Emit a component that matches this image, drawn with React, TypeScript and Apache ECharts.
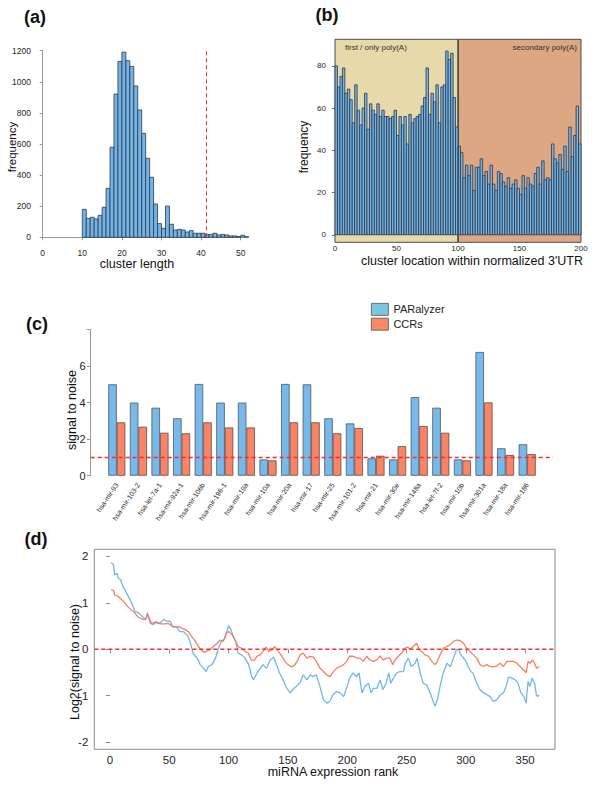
import React, { useEffect, useRef } from "react";
import * as echarts from "echarts";

// ---------- (a) cluster length histogram ----------
const lengthBinStart = [10, 11, 12, 13, 14, 15, 16, 17, 18, 19, 20, 21, 22, 23, 24, 25, 26, 27, 28, 29, 30, 31, 32, 33, 34, 35, 36, 37, 38, 39, 40, 41, 42, 43, 44, 45, 46, 47, 48, 49, 50, 51];
const lengthBinCounts = [180, 122, 129, 118, 141, 193, 315, 579, 921, 1131, 1191, 1136, 1099, 973, 819, 669, 508, 386, 214, 88, 58, 201, 84, 47, 51, 47, 34, 43, 26, 26, 26, 19, 19, 26, 15, 19, 15, 9, 9, 6, 13, 4];
const lengthBinWidth = 1;
const lengthCutoff = 41.3;
const lengthTicks = [0, 10, 20, 30, 40, 50];

// ---------- (b) cluster location histogram ----------
const locationBinStart = [0, 2, 4, 6, 8, 10, 12, 14, 16, 18, 20, 22, 24, 26, 28, 30, 32, 34, 36, 38, 40, 42, 44, 46, 48, 50, 52, 54, 56, 58, 60, 62, 64, 66, 68, 70, 72, 74, 76, 78, 80, 82, 84, 86, 88, 90, 92, 94, 96, 98, 100, 102, 104, 106, 108, 110, 112, 114, 116, 118, 120, 122, 124, 126, 128, 130, 132, 134, 136, 138, 140, 142, 144, 146, 148, 150, 152, 154, 156, 158, 160, 162, 164, 166, 168, 170, 172, 174, 176, 178, 180, 182, 184, 186, 188, 190, 192, 194, 196, 198];
const locationBinCounts = [
  80, 70, 75, 79, 67, 69, 64, 53, 71, 59,
  52, 60, 67, 50, 62, 59, 57, 62, 56, 59,
  56, 56, 55, 56, 59, 47, 56, 52, 56, 43,
  57, 53, 55, 56, 57, 61, 65, 79, 57, 67,
  63, 71, 53, 70, 71, 87, 83, 86, 65, 51,
  42, 39, 27, 33, 28, 33, 21, 32, 32, 36,
  28, 30, 24, 33, 24, 21, 30, 29, 25, 23,
  27, 22, 24, 26, 22, 19, 28, 22, 27, 24,
  23, 29, 32, 24, 35, 26, 27, 26, 43, 36,
  34, 38, 31, 42, 30, 51, 37, 47, 61, 43,
];
const locationBinWidth = 2;
const locationRegionNames = ["first / only poly(A)", "secondary poly(A)"];
const locationRegionFrom = [0, 100];
const locationRegionTo = [100, 200];
const locationYTicks = [0, 20, 40, 60, 80];

// ---------- (c) signal to noise per miRNA ----------
const mirnaNames = [
  "hsa-mir-93", "hsa-mir-103-2", "hsa-let-7a-1", "hsa-mir-92a-1", "hsa-mir-106b",
  "hsa-mir-196-1", "hsa-mir-19a", "hsa-mir-10a", "hsa-mir-20a", "hsa-mir-17",
  "hsa-mir-25", "hsa-mir-101-2", "hsa-mir-21", "hsa-mir-30e", "hsa-mir-148a",
  "hsa-let-7f-2", "hsa-mir-10b", "hsa-mir-301a", "hsa-mir-18a", "hsa-mir-186",
];
const paralyzerSN = [5.0, 4.0, 3.72, 3.14, 5.02, 4.0, 4.0, 0.89, 5.02, 5.0, 3.14, 2.86, 0.95, 0.89, 4.3, 3.72, 0.89, 6.77, 1.5, 1.72];
const ccrSN = [2.92, 2.68, 2.35, 2.32, 2.92, 2.64, 2.64, 0.84, 2.92, 2.92, 2.32, 2.61, 1.09, 1.62, 2.72, 2.35, 0.84, 4.01, 1.13, 1.18];
const snThreshold = 1;
const snTicks = [0, 2, 4, 6, 8];

// ---------- (d) running log2 signal to noise ----------
const paralyzerTrace: [number, number][] = [
  [1, 1.87], [3, 1.82], [4, 1.6], [6, 1.64], [7, 1.53], [9, 1.5], [11, 1.35], [14, 1.21], [17, 1.07], [19, 0.96],
  [21, 0.81], [24, 0.79], [27, 0.71], [30, 0.64], [31.5, 0.79], [34, 0.56], [36.5, 0.53], [39, 0.6], [42, 0.56], [45, 0.64],
  [48, 0.61], [51, 0.6], [53, 0.48], [56, 0.49], [59, 0.38], [62, 0.38], [65, 0.31], [67.5, 0.17], [70, -0.08], [72, -0.15],
  [73.6, -0.19], [76, -0.33], [79, -0.41], [81, -0.48], [83, -0.37], [86, -0.33], [89, -0.19], [91, -0.01], [94, 0.17], [97, 0.24],
  [100, 0.51], [102, 0.42], [104, 0.28], [106, 0.17], [108, -0.08], [111, -0.12], [114, -0.19], [117, -0.33], [119.5, -0.59], [121, -0.66],
  [124, -0.51], [126, -0.44], [129, -0.33], [132, -0.41], [135, -0.23], [138, -0.17], [141, -0.37], [143, -0.51], [146, -0.66], [149, -0.84],
  [152, -0.94], [154, -0.87], [157, -0.8], [160, -0.73], [163, -0.55], [166, -0.66], [169, -0.55], [171, -0.59], [174, -0.55], [177, -0.8],
  [180, -1.09], [183, -1.16], [185.5, -1.12], [188, -0.98], [191, -0.91], [194, -0.94], [197, -1.02], [200, -0.8], [202, -0.62], [205, -0.51],
  [208, -0.59], [210, -0.51], [212.5, -0.94], [215, -0.8], [218, -0.73], [220, -0.94], [222, -0.84], [225, -0.84], [227.7, -0.66], [230, -0.87],
  [232.8, -0.73], [235, -0.51], [236.7, -0.73], [239, -0.62], [241.8, -0.51], [244, -0.48], [247.4, -0.48], [249, -0.3], [251.6, -0.19], [254, -0.37],
  [257.3, -0.3], [259, -0.19], [261.5, -0.51], [264, -0.73], [267, -0.77], [270, -0.94], [272, -1.09], [274, -1.23], [276, -1.09], [278.3, -0.8],
  [281, -0.51], [284, -0.3], [287, -0.37], [289.6, -0.19], [292, -0.01], [293.8, -0.01], [296, -0.12], [299.4, -0.23], [302, -0.37], [304.2, -0.48],
  [306, -0.51], [309.3, -0.73], [312, -0.87], [314.9, -0.94], [318, -0.98], [320.5, -1.02], [323, -1.12], [326, -1.09], [329, -0.98], [331.7, -0.94],
  [334, -0.8], [336, -0.6], [339, -0.62], [341.6, -0.66], [344, -0.73], [346.4, -0.94], [349, -1.02], [350.8, -1.16], [352.5, -0.69], [354, -0.8],
  [356, -0.62], [358, -0.73], [359.5, -0.98], [360.5, -1.02], [362, -0.98],
];
const ccrTrace: [number, number][] = [
  [1, 1.28], [3, 1.27], [4, 1.17], [7, 1.14], [10, 1.07], [12.7, 0.99], [15, 0.92], [18, 0.85], [21, 0.78], [24, 0.69],
  [27, 0.65], [29.5, 0.64], [32, 0.74], [35, 0.56], [38, 0.58], [40.8, 0.56], [43, 0.55], [46.4, 0.55], [49, 0.56], [52, 0.51],
  [55, 0.48], [57.6, 0.49], [60, 0.46], [63, 0.43], [66, 0.38], [68.9, 0.28], [72, 0.17], [74.5, 0.06], [77, -0.01], [79.3, -0.07],
  [82, -0.03], [84.3, -0.01], [87, 0.06], [90, 0.12], [93, 0.2], [95.6, 0.17], [98, 0.35], [100.4, 0.38], [103, 0.31], [105.4, 0.2],
  [108, 0.06], [111, 0.02], [114, -0.05], [116.7, -0.08], [119, -0.23], [121.5, -0.24], [124, -0.15], [126.5, -0.12], [129, -0.05], [131.6, 0.05],
  [134, -0.05], [136.4, -0.01], [139, 0.06], [142, -0.05], [145, -0.15], [147.6, -0.26], [150, -0.33], [153.2, -0.38], [156, -0.33], [158.8, -0.21],
  [160.2, -0.12], [163, -0.08], [165.9, -0.19], [168.7, -0.15], [171.5, -0.17], [174, -0.26], [177.1, -0.41], [180, -0.48], [182.7, -0.55], [185.5, -0.59],
  [188.4, -0.48], [191, -0.41], [194, -0.37], [197, -0.33], [199.6, -0.26], [202, -0.15], [205.2, -0.15], [208, -0.19], [210.8, -0.19], [213.6, -0.26],
  [216.5, -0.15], [219, -0.23], [222, -0.26], [225, -0.23], [227.7, -0.14], [230.5, -0.23], [233, -0.19], [236, -0.19], [238.4, -0.33], [240.4, -0.23],
  [243.2, -0.15], [246, -0.08], [248.8, 0.02], [250.8, 0.05], [253, 0.0], [255.8, 0.06], [258.6, 0.13], [260.9, -0.01], [263, -0.05], [265.7, -0.12],
  [268.5, -0.15], [271.3, -0.26], [274, -0.33], [276, -0.26], [278.3, -0.12], [281, 0.02], [284, 0.06], [286.8, 0.1], [289.6, 0.17], [292.4, 0.2],
  [295.2, 0.19], [298, 0.13], [300.8, 0.02], [303.6, -0.05], [306.4, -0.12], [309.2, -0.19], [312, -0.33], [314.9, -0.37], [317.7, -0.33], [320.5, -0.37],
  [323.3, -0.38], [326, -0.36], [329, -0.3], [331.7, -0.37], [334.6, -0.26], [337.4, -0.26], [340.2, -0.26], [343, -0.3], [345.8, -0.37], [348.6, -0.44],
  [350.8, -0.51], [352.5, -0.26], [354, -0.3], [356.3, -0.23], [358, -0.3], [359.7, -0.41], [361.8, -0.37],
];
const rankTicks = [0, 50, 100, 150, 200, 250, 300, 350];
const log2Ticks = [-2, -1, 0, 1, 2];
const log2Baseline = 0;

const FONT = "'Liberation Sans', Arial, Helvetica, sans-serif";
const HIST_FILL = "#72b4ea";
const HIST_STROKE = "#2f3844";
const AXIS_GRAY = "#9a9a9a";
const LABEL = "#262626";
const RED_DASH = "#ff2a2a";

function histRenderer(width: number) {
  return (params: any, api: any) => {
    const x0 = api.value(0);
    const y = api.value(1);
    const p0 = api.coord([x0, y]);
    const p1 = api.coord([x0 + width, 0]);
    return {
      type: "rect",
      shape: { x: p0[0], y: p0[1], width: p1[0] - p0[0], height: p1[1] - p0[1] },
      style: { fill: HIST_FILL, stroke: HIST_STROKE, lineWidth: 0.8 },
    };
  };
}

function regionRenderer(params: any, api: any) {
  const i = params.dataIndex;
  const cs = params.coordSys;
  const a = api.coord([api.value(0), 0]);
  const b = api.coord([api.value(1), 0]);
  const fill = i === 0 ? "#e7d9aa" : "#dda784";
  return {
    type: "group",
    children: [
      {
        type: "rect",
        shape: { x: a[0], y: cs.y, width: b[0] - a[0], height: cs.height },
        style: { fill, stroke: "#4d4d4d", lineWidth: 1 },
      },
      {
        type: "text",
        x: i === 0 ? a[0] + 10 : b[0] - 4,
        y: cs.y + 4,
        style: {
          text: locationRegionNames[i],
          fill: "#333",
          font: `8px ${FONT}`,
          align: i === 0 ? "left" : "right",
          verticalAlign: "top",
        },
      },
    ],
  };
}

// dashed horizontal reference line drawn through the axes' own scale
function hLineRenderer(params: any, api: any) {
  const cs = params.coordSys;
  const p = api.coord([api.value(0), api.value(1)]);
  return {
    type: "line",
    shape: { x1: cs.x, y1: p[1], x2: cs.x + cs.width, y2: p[1] },
    style: { stroke: RED_DASH, lineWidth: 1.5, lineDash: [4, 3] },
  };
}

function buildOption(): any {
  const titleText = (text: string, x: number, y: number, size: number, rotate = false, bold = false) => ({
    type: "text",
    x,
    y,
    rotation: rotate ? Math.PI / 2 : 0,
    style: {
      text,
      fill: "#111",
      font: `${bold ? "bold " : ""}${size}px ${FONT}`,
      align: "center",
      verticalAlign: "middle",
    },
  });

  return {
    animation: false,
    backgroundColor: "#ffffff",
    textStyle: { fontFamily: FONT },
    legend: {
      data: [
        { name: "PARalyzer", itemStyle: { color: "#7cc6e2", borderColor: "#555", borderWidth: 0.8 } },
        { name: "CCRs", itemStyle: { color: "#f98a66", borderColor: "#555", borderWidth: 0.8 } },
      ],
      orient: "vertical",
      left: 371,
      top: 303,
      padding: 0,
      itemWidth: 17,
      itemHeight: 12,
      itemGap: 2,
      icon: "rect",
      textStyle: { fontSize: 11, color: "#222", fontFamily: FONT },
    },
    grid: [
      { left: 42.7, top: 50.7, width: 198, height: 186.6 },
      { left: 335, top: 39.3, width: 246, height: 203 },
      { left: 106, top: 329.5, width: 432, height: 146.2 },
      { left: 90.7, top: 329.5, width: 462.3, height: 146.2 },
      { left: 94.3, top: 549.3, width: 460.7, height: 200, show: true, borderColor: "#8a8a8a", borderWidth: 1 },
    ],
    xAxis: [
      {
        gridIndex: 0, type: "value", min: 0, max: 50, interval: 10, offset: 8,
        axisLine: { show: true, lineStyle: { color: AXIS_GRAY } },
        axisTick: { show: true, length: 3, lineStyle: { color: AXIS_GRAY }, customValues: lengthTicks },
        axisLabel: { fontSize: 8.5, color: LABEL, margin: 3, customValues: lengthTicks },
        splitLine: { show: false },
      },
      {
        gridIndex: 1, type: "value", min: 0, max: 200, interval: 50,
        axisLine: { show: false },
        axisTick: { show: false },
        axisLabel: { fontSize: 8, color: LABEL, margin: 2 },
        splitLine: { show: false },
      },
      {
        gridIndex: 2, type: "category", data: mirnaNames,
        axisLine: { show: false },
        axisTick: { show: false },
        axisLabel: { interval: 0, rotate: 56, fontSize: 7, color: LABEL, margin: 8 },
        splitLine: { show: false },
      },
      {
        gridIndex: 3, type: "value", min: 0, max: 1, show: false,
      },
      {
        gridIndex: 4, type: "value", min: -13.2, max: 375.2,
        axisLine: { show: false },
        axisTick: { show: true, length: 4, lineStyle: { color: "#8a8a8a" }, customValues: rankTicks },
        axisLabel: { fontSize: 11.5, color: LABEL, margin: 5, customValues: rankTicks },
        splitLine: { show: false },
      },
    ],
    yAxis: [
      {
        gridIndex: 0, type: "value", min: 0, max: 1200, interval: 200, offset: 7.7,
        axisLine: { show: true, lineStyle: { color: AXIS_GRAY } },
        axisTick: { show: true, length: 3, lineStyle: { color: AXIS_GRAY } },
        axisLabel: { fontSize: 8.5, color: LABEL, margin: 4, formatter: (v: number) => String(v) },
        splitLine: { show: false },
      },
      {
        gridIndex: 1, type: "value", min: -3.56, max: 92.56, offset: 4,
        axisLine: { show: false },
        axisTick: { show: true, length: 3, lineStyle: { color: "#777" }, customValues: locationYTicks },
        axisLabel: { fontSize: 8, color: LABEL, margin: 5, customValues: locationYTicks },
        splitLine: { show: false },
      },
      {
        gridIndex: 2, type: "value", min: 0, max: 8, interval: 2, offset: 15.3,
        axisLine: { show: true, lineStyle: { color: AXIS_GRAY } },
        axisTick: { show: true, length: 4, lineStyle: { color: AXIS_GRAY }, customValues: snTicks },
        axisLabel: {
          fontSize: 11, color: LABEL, margin: 5,
          formatter: (v: number) => (v === 8 ? "" : String(v)),
        },
        splitLine: { show: false },
      },
      {
        gridIndex: 3, type: "value", min: 0, max: 8, show: false,
      },
      {
        gridIndex: 4, type: "value", min: -2.155, max: 2.155,
        axisLine: { show: false },
        axisTick: { show: true, length: 4, lineStyle: { color: "#8a8a8a" }, customValues: log2Ticks },
        axisLabel: { fontSize: 11.5, color: LABEL, margin: 6, customValues: log2Ticks },
        splitLine: { show: false },
      },
    ],
    series: [
      // (a)
      {
        type: "custom",
        name: "length",
        xAxisIndex: 0,
        yAxisIndex: 0,
        clip: false,
        encode: { x: 0, y: 1 },
        renderItem: histRenderer(lengthBinWidth),
        data: lengthBinStart.map((s, i) => [s, lengthBinCounts[i]]),
        markLine: {
          silent: true,
          symbol: ["none", "none"],
          label: { show: false },
          lineStyle: { color: RED_DASH, type: [4, 3], width: 1 },
          data: [{ xAxis: lengthCutoff }],
        },
        z: 3,
      },
      // (b) backgrounds
      {
        type: "custom",
        name: "regions",
        xAxisIndex: 1,
        yAxisIndex: 1,
        encode: { x: [0, 1] },
        renderItem: regionRenderer,
        data: locationRegionFrom.map((f, i) => [f, locationRegionTo[i]]),
        z: 1,
      },
      // (b) histogram
      {
        type: "custom",
        name: "location",
        xAxisIndex: 1,
        yAxisIndex: 1,
        encode: { x: 0, y: 1 },
        renderItem: histRenderer(locationBinWidth),
        data: locationBinStart.map((s, i) => [s, locationBinCounts[i]]),
        markLine: {
          silent: true,
          symbol: ["none", "none"],
          label: { show: false },
          lineStyle: { color: "#4d4d4d", type: "solid", width: 1 },
          data: [{ xAxis: 100 }],
        },
        z: 3,
      },
      // (c) bars
      {
        type: "bar",
        name: "PARalyzer",
        xAxisIndex: 2,
        yAxisIndex: 2,
        data: paralyzerSN,
        barGap: "0%",
        barCategoryGap: "21%",
        itemStyle: { color: "#78b9ec", borderColor: "#4f5760", borderWidth: 0.8 },
        z: 3,
      },
      {
        type: "bar",
        name: "CCRs",
        xAxisIndex: 2,
        yAxisIndex: 2,
        data: ccrSN,
        barGap: "0%",
        barCategoryGap: "21%",
        itemStyle: { color: "#fa8466", borderColor: "#5a4f4c", borderWidth: 0.8 },
        z: 3,
      },
      // (c) threshold line
      {
        type: "custom",
        name: "threshold",
        xAxisIndex: 3,
        yAxisIndex: 3,
        encode: { x: 0, y: 1 },
        renderItem: hLineRenderer,
        data: [[0, snThreshold]],
        z: 5,
      },
      // (d) traces
      {
        type: "line",
        name: "PARalyzer trace",
        xAxisIndex: 4,
        yAxisIndex: 4,
        data: paralyzerTrace,
        showSymbol: false,
        symbol: "none",
        color: "#6fb6f2",
        lineStyle: { color: "#6fb6f2", width: 1.3 },
        z: 3,
      },
      {
        type: "line",
        name: "CCR trace",
        xAxisIndex: 4,
        yAxisIndex: 4,
        data: ccrTrace,
        showSymbol: false,
        symbol: "none",
        color: "#f97f5c",
        lineStyle: { color: "#f97f5c", width: 1.3 },
        z: 4,
      },
      // (d) zero line
      {
        type: "custom",
        name: "zero",
        xAxisIndex: 4,
        yAxisIndex: 4,
        encode: { x: 0, y: 1 },
        renderItem: hLineRenderer,
        data: [[0, log2Baseline]],
        z: 5,
      },
    ],
    graphic: [
      titleText("(a)", 35, 17, 18, false, true),
      titleText("(b)", 327, 15, 18, false, true),
      titleText("(c)", 37, 324, 18, false, true),
      titleText("(d)", 36, 539, 18, false, true),
      titleText("frequency", 12, 147, 11.5, true),
      titleText("cluster length", 137, 264, 12.5),
      titleText("frequency", 304, 147, 12, true),
      titleText("cluster location within normalized 3'UTR", 472, 261, 12.5),
      titleText("signal to noise", 72, 410, 12.5, true),
      titleText("Log2(signal to noise)", 75, 662, 12.5, true),
      titleText("miRNA expression rank", 333, 772, 12.5),
    ],
  };
}

export default function App() {
  const ref = useRef<HTMLDivElement>(null);
  useEffect(() => {
    if (!ref.current) return;
    const chart = echarts.init(ref.current, null, { renderer: "svg" });
    chart.setOption(buildOption());
    return () => chart.dispose();
  }, []);
  return (
    <div
      ref={ref}
      style={{ position: "absolute", left: 0, top: 0, width: 600, height: 787, background: "#fff" }}
    />
  );
}
